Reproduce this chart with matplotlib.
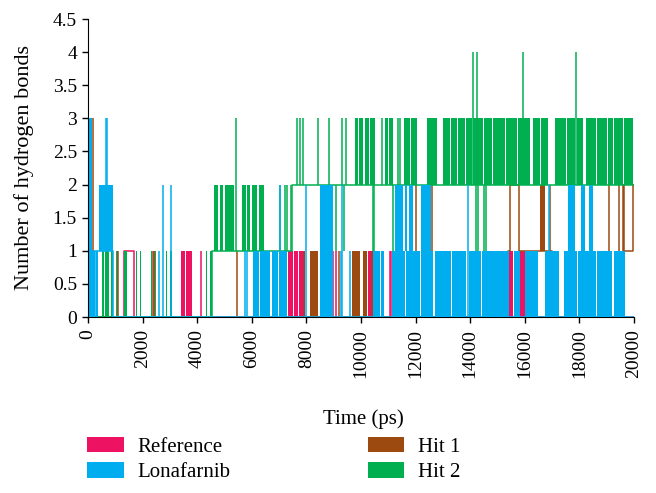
import matplotlib
matplotlib.use("Agg")
import matplotlib.pyplot as plt
from matplotlib.patches import Patch

plt.rcParams['font.family'] = ['Liberation Serif', 'DejaVu Serif']

# Number of hydrogen bonds vs time (ps), read off the reference as
# step levels, dense bands (fast flicker between two levels) and single spikes

# Reference
ref_base_t = [0, 150, 1320, 1680, 20000]
ref_base_v = [1, 0, 1, 0, 0]
ref_bands = [(0, 130, 0, 1), (3400, 3560, 0, 1), (3600, 3800, 0, 1),
             (7330, 7500, 0, 1), (7540, 7700, 0, 1), (7740, 7950, 0, 1),
             (9820, 9980, 0, 1), (10100, 10200, 0, 1), (10240, 10440, 0, 1),
             (15420, 15570, 0, 1), (15820, 16000, 0, 1)]
ref_spikes = [(1050, 0, 1), (2420, 0, 1), (4150, 0, 1), (8970, 0, 1), (9100, 0, 1),
              (11050, 0, 1), (11100, 0, 1), (12950, 0, 1), (15200, 0, 1), (17550, 0, 1)]

# Lonafarnib
lona_base_t = [0, 920, 20000]
lona_base_v = [1, 0, 0]
lona_bands = [(0, 130, 0, 3), (150, 250, 0, 1), (300, 380, 0, 1), (400, 920, 1, 2),
              (6040, 6250, 0, 1), (6300, 6660, 0, 1), (6740, 6950, 0, 1), (7000, 7280, 0, 1),
              (8490, 8970, 0, 2), (10430, 10700, 0, 1), (10750, 10840, 0, 1),
              (11150, 11600, 0, 1), (11650, 12150, 0, 1), (12200, 12650, 0, 1),
              (12700, 13300, 0, 1), (13350, 13850, 0, 1), (13950, 14400, 0, 1),
              (14450, 15000, 0, 1), (15030, 15410, 0, 1), (15600, 15810, 0, 1),
              (15990, 16500, 0, 1), (16730, 17240, 0, 1), (17430, 17900, 0, 1),
              (17950, 18600, 0, 1), (18650, 19200, 0, 1), (19250, 19660, 0, 1),
              (11240, 11530, 1, 2), (11600, 11700, 1, 2), (11750, 11900, 1, 2),
              (12190, 12560, 1, 2), (17570, 17830, 1, 2), (18050, 18190, 1, 2),
              (18340, 18480, 1, 2)]
lona_spikes = [(650, 1, 3), (710, 1, 3), (250, 0, 1), (2600, 0, 1), (5750, 0, 1),
               (5820, 0, 1), (9250, 0, 1), (9600, 0, 1), (2750, 0, 2), (3040, 0, 2),
               (7030, 0, 2), (7980, 0, 2), (9300, 0, 2), (13910, 0, 2), (16900, 0, 2)]

# Hit 1
hit1_base_t = [0, 15400, 15460, 15790, 17000, 19600, 19650, 19980, 20000]
hit1_base_v = [0, 1, 2, 1, 0, 2, 1, 2, 2]
hit1_bands = [(8130, 8420, 0, 1), (9670, 9960, 0, 1), (10070, 10210, 0, 1),
              (16550, 16740, 1, 2)]
hit1_spikes = [(60, 0, 3), (180, 0, 3), (1100, 0, 1), (2380, 0, 1), (2450, 0, 1),
               (5460, 0, 1), (7900, 0, 1), (8600, 0, 1), (9200, 0, 1), (10400, 0, 1),
               (11400, 0, 1), (12010, 0, 2), (12600, 0, 2), (16920, 1, 2),
               (17520, 0, 1), (19070, 0, 2), (19440, 0, 2)]

# Hit 2
hit2_base_t = [0, 4550, 7480, 19950]
hit2_base_v = [0, 1, 2, 2]
hit2_bands = [(510, 600, 0, 1), (640, 770, 0, 1), (850, 920, 0, 1), (1030, 1070, 0, 1),
              (1320, 1420, 0, 1), (1760, 1800, 0, 1), (1900, 1940, 0, 1), (2300, 2330, 0, 1),
              (2440, 2490, 0, 1), (2860, 2900, 0, 1), (2990, 3070, 0, 1), (4320, 4360, 0, 1),
              (4480, 4550, 0, 1),
              (4600, 4780, 1, 2), (4820, 4950, 1, 2), (5000, 5150, 1, 2), (5180, 5330, 1, 2),
              (5650, 5800, 1, 2), (5840, 5950, 1, 2), (6000, 6200, 1, 2), (6250, 6450, 1, 2),
              (9780, 9890, 2, 3), (9920, 10070, 2, 3), (10140, 10300, 2, 3), (10330, 10500, 2, 3),
              (10870, 11000, 2, 3), (11040, 11160, 2, 3), (11570, 11800, 2, 3), (11840, 12040, 2, 3),
              (12410, 12780, 2, 3), (12990, 13250, 2, 3), (13290, 13500, 2, 3), (13540, 13800, 2, 3),
              (13840, 14080, 2, 3), (14120, 14460, 2, 3), (14500, 14800, 2, 3), (14850, 15260, 2, 3),
              (15300, 15700, 2, 3), (15740, 16180, 2, 3), (16290, 16550, 2, 3), (16600, 16840, 2, 3),
              (17090, 17500, 2, 3), (17540, 17850, 2, 3), (17900, 18120, 2, 3), (18230, 18600, 2, 3),
              (18650, 19000, 2, 3), (19050, 19220, 2, 3), (19260, 19600, 2, 3), (19640, 19950, 2, 3)]
hit2_spikes = [(5420, 1, 3), (7050, 1, 2), (7200, 1, 2), (7300, 1, 2), (7430, 1, 2),
               (7650, 2, 3), (7760, 2, 3), (7870, 2, 3), (8420, 2, 3), (8830, 2, 3),
               (9300, 2, 3), (9440, 2, 3), (9960, 2, 3), (10760, 2, 3), (11350, 2, 3),
               (11420, 2, 3), (14100, 2, 4), (14240, 2, 4), (15930, 2, 4), (17870, 2, 4),
               (9080, 1, 2), (9380, 1, 2), (10440, 1, 2), (10470, 1, 2), (11170, 1, 2),
               (11280, 1, 2), (12230, 1, 2), (12300, 1, 2), (14210, 1, 2), (14280, 1, 2),
               (14500, 1, 2), (14580, 1, 2), (17730, 1, 2)]

names = ['Reference', 'Lonafarnib', 'Hit 1', 'Hit 2']
colors = ['#EE1262', '#00AEEF', '#9C4A10', '#00B050']


def draw_series(ax, base_t, base_v, bands, spikes, color, z):
    ax.step(base_t, base_v, where='post', color=color, lw=1.1, zorder=z)
    for t0, t1, lo, hi in bands:
        ax.bar(t0, hi - lo, width=t1 - t0, bottom=lo, align='edge',
               color=color, linewidth=0, zorder=z)
    for t, lo, hi in spikes:
        ax.vlines(t, lo, hi, color=color, lw=1.1, zorder=z)


fig = plt.figure(figsize=(6.56, 4.93), dpi=100)
ax = fig.add_axes([88/656, 1 - 317/493, 546/656, 298/493])

draw_series(ax, ref_base_t, ref_base_v, ref_bands, ref_spikes, colors[0], 2)
draw_series(ax, hit1_base_t, hit1_base_v, hit1_bands, hit1_spikes, colors[2], 3)
draw_series(ax, hit2_base_t, hit2_base_v, hit2_bands, hit2_spikes, colors[3], 4)
draw_series(ax, lona_base_t, lona_base_v, lona_bands, lona_spikes, colors[1], 5)

ax.set_xlim(0, 20000)
ax.set_ylim(0, 4.5)
ax.set_xticks(range(0, 20001, 2000))
yt = [i * 0.5 for i in range(10)]
ax.set_yticks(yt)
ax.set_yticklabels(['{:g}'.format(v) for v in yt])
ax.tick_params(axis='both', labelsize=14, length=4.5, width=1, direction='out')
ax.tick_params(axis='x', labelrotation=90, pad=4)
for s in ['top', 'right']:
    ax.spines[s].set_visible(False)
ax.spines['left'].set_zorder(6)

ax.set_ylabel('Number of hydrogen bonds', fontsize=16)
ax.yaxis.set_label_coords(-0.098, 0.5)
ax.set_xlabel('Time (ps)', fontsize=15)
ax.xaxis.set_label_coords(0.504, -0.31)

handles = [Patch(facecolor=c, edgecolor='none') for c in colors]
fig.legend(handles, names, ncol=2, loc='upper left',
           bbox_to_anchor=(87/656, 1 - 437/493), frameon=False, fontsize=15,
           handlelength=1.76, handleheight=0.76, handletextpad=0.65,
           columnspacing=6.6, labelspacing=0.25, borderpad=0, borderaxespad=0)

fig.savefig('out.png', dpi=100)
